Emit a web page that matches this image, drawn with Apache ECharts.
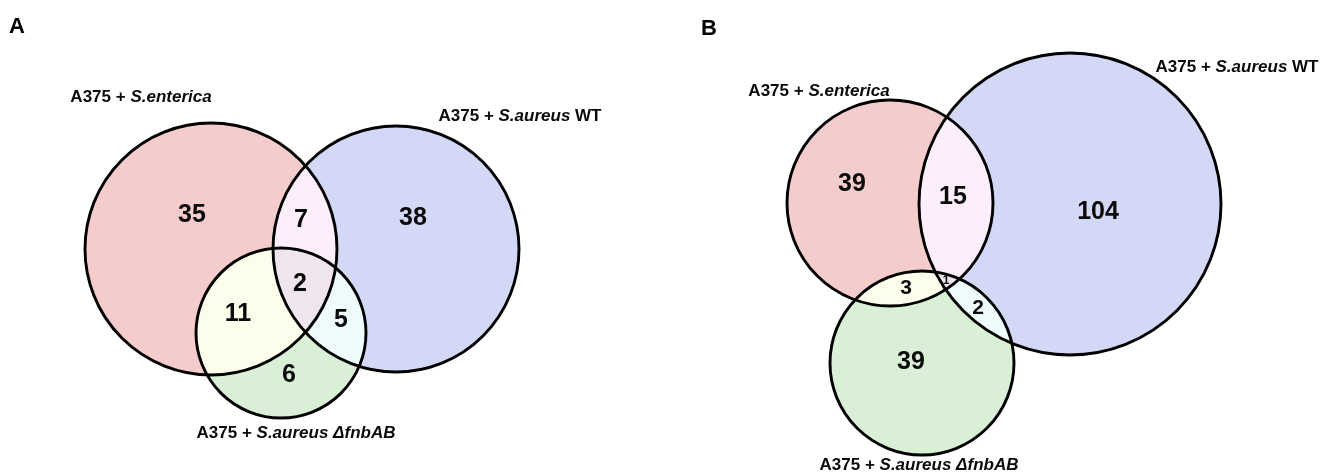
<!DOCTYPE html>
<html>
<head>
<meta charset="utf-8">
<script src="https://cdn.jsdelivr.net/npm/echarts@6/dist/echarts.min.js"></script>
<style>
  html, body { margin: 0; padding: 0; background: #ffffff; }
  #chart { width: 1330px; height: 475px; }
</style>
</head>
<body>
<div id="chart"></div>
<script>
// ---- data -------------------------------------------------------------
const panelTitles = ['A', 'B'];
// set label pieces: [plain, italic, plain]
const setLabelParts = [
  ['A375 + ', 'S.enterica', ''],
  ['A375 + ', 'S.aureus', ' WT'],
  ['A375 + ', 'S.aureus \u0394fnbAB', '']
];
// regions, as the sets they belong to (0 = S.enterica, 1 = S.aureus WT, 2 = S.aureus ΔfnbAB)
const regionSets = [[0], [1], [2], [0, 1], [0, 2], [1, 2], [0, 1, 2]];
const countsA = [35, 38, 6, 7, 11, 5, 2];
const countsB = [39, 104, 39, 15, 3, 2, 1];
const panelCounts = [countsA, countsB];

// ---- layout (pixel-space units of the hidden axes) ---------------------
const circlesA = [[211, 249, 126], [396, 249, 123], [281, 333, 85]];
const circlesB = [[890, 203, 103], [1070, 204, 151], [922, 363, 92]];
const panelCircles = [circlesA, circlesB];
const titlePos = [[17, 27], [709, 29]];
const setLabelPosA = [[141, 97], [520, 116], [296, 433]];
const setLabelPosB = [[819, 91], [1237, 67], [919, 465]];
const panelSetLabelPos = [setLabelPosA, setLabelPosB];
const countPosA = [[192, 215], [413, 218], [289, 375], [301, 220], [238, 314], [341, 320], [300, 284]];
const countPosB = [[852, 184], [1098, 212], [911, 362], [953, 197], [906, 288], [978, 308], [946, 281]];
const panelCountPos = [countPosA, countPosB];
const countSizeA = [25, 25, 25, 25, 25, 25, 25];
const countSizeB = [25, 25, 25, 25, 21, 21, 12];
const panelCountSize = [countSizeA, countSizeB];
const regionColors = ['#f4cccc', '#d4d8f7', '#d9f0d7', '#fdeefc', '#fdfdeb', '#eefcfd', '#eee5ed'];

const FONT = '"Liberation Sans", Arial, Helvetica, sans-serif';

// Intersection of circles is convex: collect its boundary points and sort by angle.
function intersectionPolygon(circles) {
  const pts = [];
  const N = 1800;
  const eps = 1e-6;
  const insideOthers = (x, y, skip) => circles.every((o, j) =>
    j === skip || Math.hypot(x - o[0], y - o[1]) <= o[2] + eps);
  circles.forEach((c, i) => {
    for (let k = 0; k < N; k++) {
      const a = 2 * Math.PI * k / N;
      const x = c[0] + c[2] * Math.cos(a);
      const y = c[1] + c[2] * Math.sin(a);
      if (insideOthers(x, y, i)) pts.push([x, y]);
    }
  });
  // exact crossing points of each pair of circles
  for (let i = 0; i < circles.length; i++) {
    for (let j = i + 1; j < circles.length; j++) {
      const [x0, y0, r0] = circles[i];
      const [x1, y1, r1] = circles[j];
      const d = Math.hypot(x1 - x0, y1 - y0);
      if (d > r0 + r1 || d < Math.abs(r0 - r1)) continue;
      const a = (r0 * r0 - r1 * r1 + d * d) / (2 * d);
      const h = Math.sqrt(Math.max(0, r0 * r0 - a * a));
      const mx = x0 + a * (x1 - x0) / d;
      const my = y0 + a * (y1 - y0) / d;
      [[mx + h * (y1 - y0) / d, my - h * (x1 - x0) / d],
       [mx - h * (y1 - y0) / d, my + h * (x1 - x0) / d]].forEach(p => {
        if (circles.every(o => Math.hypot(p[0] - o[0], p[1] - o[1]) <= o[2] + 1e-3)) pts.push(p);
      });
    }
  }
  if (!pts.length) return [];
  const cx = pts.reduce((s, p) => s + p[0], 0) / pts.length;
  const cy = pts.reduce((s, p) => s + p[1], 0) / pts.length;
  pts.sort((p, q) => Math.atan2(p[1] - cy, p[0] - cx) - Math.atan2(q[1] - cy, q[0] - cx));
  return pts;
}

// item lists: [panel, index]
const regionItems = [];
const outlineItems = [];
const countItems = [];
const setLabelItems = [];
panelTitles.forEach((t, p) => {
  regionSets.forEach((s, r) => regionItems.push([p, r]));
  panelCircles[p].forEach((c, k) => outlineItems.push([p, k]));
  panelCounts[p].forEach((v, r) => countItems.push([p, r]));
  setLabelParts.forEach((s, k) => setLabelItems.push([p, k]));
});
const titleItems = panelTitles.map((t, p) => [p, 0]);

const chart = echarts.init(document.getElementById('chart'), null, { renderer: 'canvas' });

chart.setOption({
  backgroundColor: '#ffffff',
  animation: false,
  grid: { left: 0, right: 0, top: 0, bottom: 0, containLabel: false },
  xAxis: { type: 'value', min: 0, max: 1330, show: false },
  yAxis: { type: 'value', min: 0, max: 475, inverse: true, show: false },
  series: [
    {
      name: 'regions',
      type: 'custom',
      coordinateSystem: 'cartesian2d',
      silent: true,
      data: regionItems,
      renderItem: function (params, api) {
        const p = api.value(0), r = api.value(1);
        const sets = regionSets[r];
        const circles = sets.map(k => panelCircles[p][k]);
        if (sets.length === 1) {
          const c = circles[0];
          const ctr = api.coord([c[0], c[1]]);
          const rad = api.size([c[2], 0])[0];
          return { type: 'circle', z2: 1, shape: { cx: ctr[0], cy: ctr[1], r: rad },
                   style: { fill: regionColors[r] } };
        }
        const pts = intersectionPolygon(circles).map(q => api.coord(q));
        return { type: 'polygon', z2: sets.length, shape: { points: pts },
                 style: { fill: regionColors[r] } };
      }
    },
    {
      name: 'outlines',
      type: 'custom',
      coordinateSystem: 'cartesian2d',
      silent: true,
      z: 3,
      data: outlineItems,
      renderItem: function (params, api) {
        const c = panelCircles[api.value(0)][api.value(1)];
        const ctr = api.coord([c[0], c[1]]);
        const rad = api.size([c[2], 0])[0];
        return { type: 'circle', shape: { cx: ctr[0], cy: ctr[1], r: rad },
                 style: { fill: null, stroke: '#000000', lineWidth: 2.9 } };
      }
    },
    {
      name: 'counts',
      type: 'custom',
      coordinateSystem: 'cartesian2d',
      silent: true,
      z: 4,
      data: countItems,
      renderItem: function (params, api) {
        const p = api.value(0), r = api.value(1);
        const pos = api.coord(panelCountPos[p][r]);
        return { type: 'text', style: {
          text: String(panelCounts[p][r]), x: pos[0], y: pos[1],
          fill: '#0a0a0a', align: 'center', verticalAlign: 'middle',
          fontFamily: FONT, fontWeight: 'bold', fontSize: panelCountSize[p][r] } };
      }
    },
    {
      name: 'setLabels',
      type: 'custom',
      coordinateSystem: 'cartesian2d',
      silent: true,
      z: 4,
      data: setLabelItems,
      renderItem: function (params, api) {
        const p = api.value(0), k = api.value(1);
        const pos = api.coord(panelSetLabelPos[p][k]);
        const parts = setLabelParts[k];
        let txt = '';
        if (parts[0]) txt += '{n|' + parts[0] + '}';
        if (parts[1]) txt += '{i|' + parts[1] + '}';
        if (parts[2]) txt += '{n|' + parts[2] + '}';
        const base = { fontFamily: FONT, fontWeight: 'bold', fontSize: 17, fill: '#0a0a0a' };
        return { type: 'text', style: {
          text: txt, x: pos[0], y: pos[1], align: 'center', verticalAlign: 'middle',
          fontFamily: FONT, fontWeight: 'bold', fontSize: 17, fill: '#0a0a0a',
          rich: {
            n: Object.assign({}, base),
            i: Object.assign({ fontStyle: 'italic' }, base)
          } } };
      }
    },
    {
      name: 'titles',
      type: 'custom',
      coordinateSystem: 'cartesian2d',
      silent: true,
      z: 4,
      data: titleItems,
      renderItem: function (params, api) {
        const p = api.value(0);
        const pos = api.coord(titlePos[p]);
        return { type: 'text', style: {
          text: panelTitles[p], x: pos[0], y: pos[1], fill: '#000000',
          align: 'center', verticalAlign: 'middle',
          fontFamily: FONT, fontWeight: 'bold', fontSize: 22 } };
      }
    }
  ]
});
</script>
</body>
</html>
